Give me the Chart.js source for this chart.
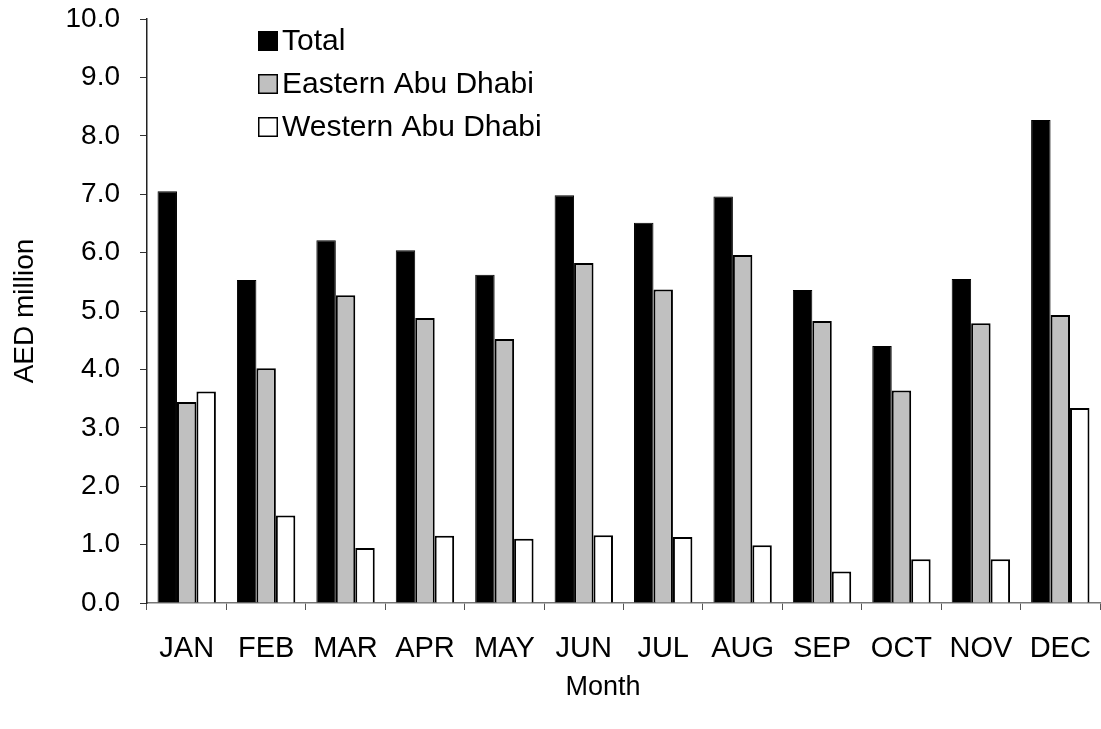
<!DOCTYPE html>
<html>
<head>
<meta charset="utf-8">
<script src="https://cdn.jsdelivr.net/npm/chart.js@4.4.9/dist/chart.umd.min.js"></script>
<style>
  html, body { margin: 0; padding: 0; background: #fff; }
  #wrap { width: 1101px; height: 729px; }
</style>
</head>
<body>
<div id="wrap"><canvas id="chart" width="1101" height="729"></canvas></div>
<script>
const months = ["JAN", "FEB", "MAR", "APR", "MAY", "JUN", "JUL", "AUG", "SEP", "OCT", "NOV", "DEC"];
const total = [7.05, 5.53, 6.21, 6.04, 5.62, 6.98, 6.51, 6.96, 5.36, 4.40, 5.55, 8.27];
const eastern = [3.44, 4.02, 5.27, 4.88, 4.52, 5.82, 5.37, 5.96, 4.83, 3.64, 4.79, 4.93];
const western = [3.62, 1.50, 0.94, 1.15, 1.10, 1.16, 1.13, 0.99, 0.54, 0.75, 0.75, 3.34];
const yTicks = [0, 1, 2, 3, 4, 5, 6, 7, 8, 9, 10];
const xTitle = "Month";

const FONT = "'Liberation Sans', Arial, sans-serif";

// legend drawn inside the plot, top-left, plus the x axis title
const boxLegend = {
  id: "boxLegend",
  afterDatasetsDraw(chart) {
    const ctx = chart.ctx;
    ctx.save();
    ctx.font = "30px " + FONT;
    ctx.textBaseline = "middle";
    chart.data.datasets.forEach((ds, i) => {
      const cy = 41 + i * 43;
      ctx.fillStyle = ds.backgroundColor;
      ctx.fillRect(258, cy - 10, 20, 20);
      ctx.strokeStyle = "#000";
      ctx.lineWidth = 1.5;
      ctx.strokeRect(258.75, cy - 9.25, 18.5, 18.5);
      ctx.fillStyle = "#000";
      ctx.fillText(ds.label, 282, cy + 1);
    });
    ctx.font = "27px " + FONT;
    ctx.textAlign = "center";
    ctx.fillText(xTitle, 603, 688);
    ctx.restore();
  }
};

new Chart(document.getElementById("chart"), {
  type: "bar",
  data: {
    labels: months,
    datasets: [
      { label: "Total", data: total, backgroundColor: "#000000", borderColor: "#000", borderWidth: 1 },
      { label: "Eastern Abu Dhabi", data: eastern, backgroundColor: "#c0c0c0", borderColor: "#000", borderWidth: 2 },
      { label: "Western Abu Dhabi", data: western, backgroundColor: "#ffffff", borderColor: "#000", borderWidth: 2 }
    ]
  },
  plugins: [boxLegend],
  options: {
    responsive: false,
    animation: false,
    layout: { padding: { top: 19, right: 1, left: 0, bottom: 0 } },
    datasets: { bar: { barPercentage: 1.0, categoryPercentage: 0.735 } },
    plugins: {
      legend: { display: false },
      tooltip: { enabled: false }
    },
    scales: {
      x: {
        afterFit: (s) => { s.height = 126; s.paddingLeft = 0; s.paddingRight = 0; },
        border: { color: "#777", width: 1.5 },
        grid: { display: true, drawOnChartArea: false, drawTicks: true, tickLength: 7, color: "#555", offset: true },
        ticks: { color: "#000", font: { family: FONT, size: 29 }, padding: 22, maxRotation: 0 },
        title: { display: false }
      },
      y: {
        min: 0,
        max: 10,
        afterFit: (s) => { s.width = 147; s.paddingTop = 0; s.paddingBottom = 0; },
        afterBuildTicks: (s) => { s.ticks = yTicks.map((v) => ({ value: v })); },
        border: { color: "#222", width: 1.5 },
        grid: { display: true, drawOnChartArea: false, drawTicks: true, tickLength: 7, color: "#333" },
        ticks: { color: "#000", font: { family: FONT, size: 28 }, padding: 20, callback: (v) => Number(v).toFixed(1) },
        title: { display: true, text: "AED million", color: "#000", font: { family: FONT, size: 28 }, padding: { top: 8 } }
      }
    }
  }
});
</script>
</body>
</html>
